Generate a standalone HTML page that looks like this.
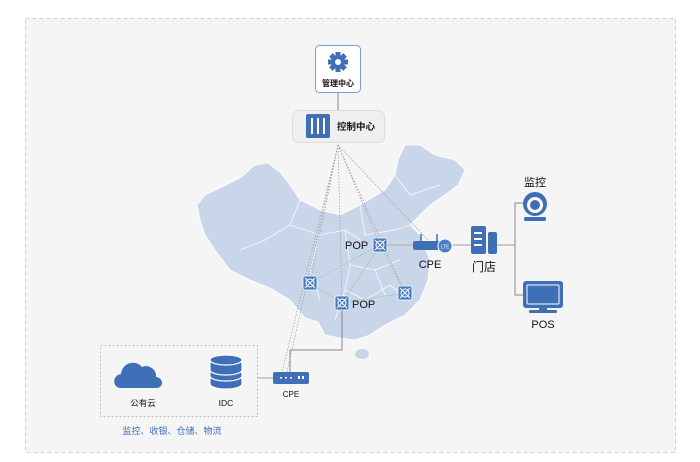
<!DOCTYPE html>
<html><head><meta charset="utf-8"><style>
body{margin:0;background:#fff;}
svg{display:block;font-family:"Liberation Sans","Noto Sans CJK SC",sans-serif;}
</style></head><body>
<svg width="700" height="462" viewBox="0 0 700 462">
<rect x="25.5" y="18.5" width="650" height="434" fill="#f5f5f5" stroke="#c9cde8" stroke-dasharray="4,3"/>
<!-- map -->
<polygon fill="#c9d6ea" stroke="#fff" stroke-width="0.8" points="197,205 205,195 220,188 240,178 255,165 268,163 280,172 290,185 300,200 320,210 340,215 360,205 385,190 395,175 398,160 405,145 420,145 435,155 455,160 465,170 458,185 445,195 430,205 420,215 410,225 420,235 425,248 430,260 428,280 420,300 405,315 385,325 370,335 355,340 340,338 325,335 318,322 305,318 290,300 270,288 250,280 230,270 215,250 205,235 200,220"/>
<ellipse cx="362" cy="354" rx="7" ry="5" fill="#c9d6ea"/>
<g fill="none" stroke="#fff" stroke-width="0.8" opacity="0.9">
<path d="M300,200 L290,225 L265,240 L240,250 M290,225 L320,235 L345,230 L360,240 M320,235 L310,270 L320,300 M345,230 L350,265 L375,270 L400,260 M360,205 L365,235 L395,230 L410,225 M350,265 L345,290 L365,300 L390,285 L410,300 M375,270 L385,295 M395,175 L410,195 L440,185 M345,290 L335,320"/>
</g>
<!-- dotted lines from control center -->
<g stroke="#999" stroke-width="0.7" stroke-dasharray="1.5,1.5" fill="none">
<line x1="338" y1="145" x2="380" y2="245"/>
<line x1="338" y1="145" x2="310" y2="283"/>
<line x1="338" y1="145" x2="342" y2="303"/>
<line x1="338" y1="145" x2="405" y2="293"/>
<line x1="338" y1="145" x2="428" y2="240"/>
<line x1="338" y1="145" x2="287" y2="372"/>
<line x1="338" y1="145" x2="282" y2="372"/>
</g>
<!-- green mesh -->
<g stroke="#9fcf9f" stroke-width="0.7">
<line x1="380" y1="245" x2="310" y2="283"/><line x1="380" y1="245" x2="342" y2="303"/>
<line x1="380" y1="245" x2="405" y2="293"/><line x1="310" y1="283" x2="342" y2="303"/>
<line x1="342" y1="303" x2="405" y2="293"/>
</g>
<!-- solid connectors -->
<g stroke="#bbb" stroke-width="1.5" fill="none">
<line x1="387" y1="245" x2="418" y2="245"/>
<line x1="450" y1="245" x2="472" y2="245"/>
<line x1="497" y1="245" x2="515" y2="245"/>
<line x1="258" y1="378" x2="275" y2="378"/>
</g>
<g stroke="#888" stroke-width="1" fill="none">
<polyline points="342,310 342,350 290,350 290,372"/>
<polyline points="527,203 515,203 515,295 527,295"/>
<line x1="338" y1="92" x2="338" y2="110"/>
</g>
<!-- management -->
<rect x="315.5" y="45.5" width="45" height="47" rx="4" fill="#fff" stroke="#7e9bd6"/>
<g transform="translate(338,62)" fill="#3e6fb7">
<circle r="7"/>
<g><rect x="-2.5" y="-10" width="5" height="20"/><rect x="-2.5" y="-10" width="5" height="20" transform="rotate(45)"/><rect x="-2.5" y="-10" width="5" height="20" transform="rotate(90)"/><rect x="-2.5" y="-10" width="5" height="20" transform="rotate(135)"/></g>
<circle r="3" fill="#fff"/>
</g>
<text x="338" y="86" font-size="8" font-weight="bold" text-anchor="middle" fill="#111">管理中心</text>
<!-- control -->
<rect x="292.5" y="110.5" width="92" height="32" rx="6" fill="#efefef" stroke="#ddd"/>
<rect x="306" y="114" width="24" height="24" rx="2" fill="#3e6fb7"/>
<g stroke="#fff" stroke-width="2"><line x1="312" y1="118" x2="312" y2="134"/><line x1="318" y1="118" x2="318" y2="134"/><line x1="324" y1="118" x2="324" y2="134"/></g>
<text x="337" y="130" font-size="9.5" font-weight="bold" fill="#111">控制中心</text>
<g fill="#4a7cc4" stroke="#fff" stroke-width="0.8">
<rect x="373" y="238" width="14" height="14" rx="2"/>
<rect x="303" y="276" width="14" height="14" rx="2"/>
<rect x="335" y="296" width="14" height="14" rx="2"/>
<rect x="398" y="286" width="14" height="14" rx="2"/>
</g>
<g stroke="#fff" stroke-width="1" fill="none">
<circle cx="380" cy="245" r="4"/><path d="M375,240 L385,250 M385,240 L375,250"/>
<circle cx="310" cy="283" r="4"/><path d="M305,278 L315,288 M315,278 L305,288"/>
<circle cx="342" cy="303" r="4"/><path d="M337,298 L347,308 M347,298 L337,308"/>
<circle cx="405" cy="293" r="4"/><path d="M400,288 L410,298 M410,288 L400,298"/>
</g>
<text x="345" y="249" font-size="11" fill="#111">POP</text>
<text x="352" y="308" font-size="11" fill="#111">POP</text>
<!-- CPE router -->
<rect x="413" y="241" width="27" height="9" rx="2" fill="#3e6fb7"/>
<line x1="421" y1="241" x2="421" y2="234" stroke="#3e6fb7" stroke-width="1.5"/>
<line x1="437" y1="241" x2="437" y2="234" stroke="#3e6fb7" stroke-width="1.5"/>
<circle cx="445" cy="246" r="7" fill="#4a7cc4" stroke="#fff" stroke-width="1"/>
<text x="445" y="248.5" font-size="5" fill="#fff" text-anchor="middle">LTE</text>
<text x="430" y="268" font-size="11" fill="#111" text-anchor="middle">CPE</text>
<!-- store -->
<rect x="471" y="226" width="15" height="28" rx="2" fill="#3e6fb7"/>
<rect x="488" y="232" width="9" height="22" rx="2" fill="#3e6fb7"/>
<g fill="#fff"><rect x="474" y="232" width="8" height="2"/><rect x="474" y="238" width="8" height="2"/><rect x="474" y="244" width="8" height="2"/></g>
<text x="484" y="271" font-size="12" fill="#111" text-anchor="middle">门店</text>
<!-- camera -->
<text x="535" y="186" font-size="11" fill="#111" text-anchor="middle">监控</text>
<circle cx="535" cy="204" r="12" fill="#3e6fb7"/>
<circle cx="535" cy="205" r="8" fill="#fff"/>
<circle cx="535" cy="205" r="5" fill="#3e6fb7"/>
<rect x="524" y="217" width="22" height="4" rx="1.5" fill="#3e6fb7"/>
<!-- POS -->
<rect x="523" y="281" width="40" height="27" rx="3" fill="#3e6fb7"/>
<rect x="527" y="285" width="32" height="19" rx="1" fill="#3e6fb7" stroke="#fff" stroke-width="1"/>
<rect x="539" y="308" width="8" height="3" fill="#3e6fb7"/>
<rect x="529" y="310" width="28" height="3" rx="1" fill="#3e6fb7"/>
<text x="543" y="328" font-size="11" fill="#111" text-anchor="middle">POS</text>
<!-- left dc box -->
<rect x="100.5" y="345.5" width="157" height="71" fill="none" stroke="#bbb" stroke-dasharray="2,2"/>
<path d="M121,388 C112,388 112,375 121,374 C122,363 135,359 142,367 C148,364 157,369 156,377 C164,378 164,388 156,388 Z" fill="#3e6fb7"/>
<text x="143" y="406" font-size="8.5" fill="#111" text-anchor="middle">公有云</text>
<g fill="#3e6fb7" stroke="#fff" stroke-width="1.2">
<ellipse cx="226" cy="384" rx="16" ry="5"/>
<path d="M210,372 v12 a16,5 0 0 0 32,0 v-12" />
<path d="M210,366 v10 a16,5 0 0 0 32,0 v-10"/>
<path d="M210,360 v10 a16,5 0 0 0 32,0 v-10"/>
<ellipse cx="226" cy="360" rx="16" ry="5"/>
</g>
<text x="226" y="406" font-size="8.5" fill="#111" text-anchor="middle">IDC</text>
<text x="172" y="434" font-size="9" fill="#3e6fb7" text-anchor="middle">监控、收银、仓储、物流</text>
<!-- CPE left -->
<rect x="273" y="372" width="36" height="12" rx="2" fill="#3e6fb7"/>
<g fill="#fff"><rect x="280" y="377" width="2" height="1.5"/><rect x="285" y="377" width="2" height="1.5"/><rect x="290" y="377" width="2" height="1.5"/><rect x="298" y="376" width="2" height="3"/><rect x="302" y="376" width="2" height="3"/></g>
<text x="291" y="397" font-size="8" fill="#111" text-anchor="middle">CPE</text>
</svg>
</body></html>
